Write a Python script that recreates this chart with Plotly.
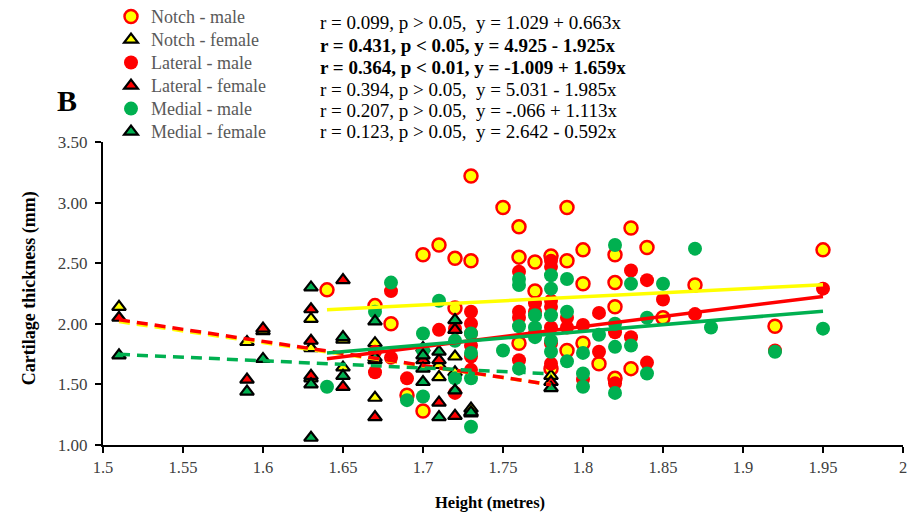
import plotly.graph_objects as go

# ---------------- data ----------------
notch_male_h = [1.64, 1.67, 1.68, 1.69, 1.70, 1.70, 1.71, 1.72, 1.72, 1.73, 1.73, 1.75,
                1.76, 1.76, 1.76, 1.77, 1.77, 1.78, 1.78, 1.79, 1.79, 1.79, 1.80, 1.80, 1.80,
                1.81, 1.82, 1.82, 1.82, 1.82, 1.83, 1.83, 1.84, 1.85, 1.87, 1.92, 1.95]
notch_male_v = [2.28, 2.15, 2.00, 1.41, 2.57, 1.28, 2.65, 2.54, 2.13, 3.22, 2.52, 2.96,
                2.80, 2.55, 1.84, 2.51, 2.27, 2.56, 1.63, 2.96, 2.52, 1.78, 2.61, 2.33, 1.84,
                1.67, 2.57, 2.34, 2.14, 1.55, 2.79, 1.63, 2.63, 2.05, 2.32, 1.98, 2.61]

notch_female_h = [1.51, 1.59, 1.60, 1.63, 1.63, 1.63, 1.65, 1.65, 1.67, 1.67, 1.70,
                  1.71, 1.71, 1.72, 1.72, 1.73, 1.78]
notch_female_v = [2.14, 1.85, 1.94, 2.04, 1.80, 1.55, 1.64, 1.87, 1.84, 1.39, 1.80,
                  1.56, 1.66, 1.73, 1.60, 1.30, 1.57]

lateral_male_h = [1.67, 1.67, 1.68, 1.68, 1.69, 1.71, 1.72, 1.72, 1.73, 1.73, 1.73, 1.73,
                  1.73, 1.73, 1.76, 1.76, 1.76, 1.76, 1.77, 1.77, 1.77, 1.78, 1.78, 1.78,
                  1.78, 1.78, 1.78, 1.78, 1.79, 1.79, 1.80, 1.80, 1.81, 1.81, 1.82, 1.82,
                  1.83, 1.83, 1.84, 1.84, 1.85, 1.87, 1.92, 1.95]
lateral_male_v = [1.60, 1.77, 2.27, 1.72, 1.55, 1.95, 1.96, 1.43, 2.10, 2.00, 1.92, 1.82,
                  1.73, 1.62, 2.43, 2.10, 2.05, 1.70, 2.17, 2.10, 1.92, 2.52, 2.47, 2.19,
                  2.14, 1.97, 1.84, 1.67, 2.05, 1.97, 1.99, 1.54, 2.09, 1.77, 1.93, 1.51,
                  2.44, 1.89, 2.36, 1.68, 2.20, 2.08, 1.78, 2.29]

lateral_female_h = [1.51, 1.59, 1.60, 1.63, 1.63, 1.63, 1.65, 1.65, 1.67, 1.67, 1.70,
                    1.71, 1.71, 1.72, 1.72, 1.73, 1.78]
lateral_female_v = [2.05, 1.54, 1.96, 2.12, 1.86, 1.57, 2.36, 1.48, 1.23, 1.70, 1.70,
                    1.35, 1.70, 1.24, 1.95, 1.26, 1.52]

medial_male_h = [1.64, 1.67, 1.68, 1.69, 1.70, 1.70, 1.70, 1.71, 1.72, 1.72, 1.73, 1.73,
                 1.73, 1.73, 1.75, 1.76, 1.76, 1.76, 1.76, 1.77, 1.77, 1.77, 1.78, 1.78,
                 1.78, 1.78, 1.78, 1.79, 1.79, 1.79, 1.80, 1.80, 1.80, 1.81, 1.82, 1.82,
                 1.82, 1.82, 1.83, 1.83, 1.84, 1.84, 1.85, 1.87, 1.88, 1.92, 1.95]
medial_male_v = [1.48, 2.10, 2.34, 1.37, 1.92, 1.78, 1.40, 2.19, 1.86, 1.55, 1.92, 1.76,
                 1.55, 1.15, 1.78, 2.37, 2.32, 1.98, 1.63, 2.07, 1.97, 1.89, 2.40, 2.29,
                 2.07, 1.86, 1.77, 2.37, 2.10, 1.69, 1.76, 1.59, 1.48, 1.91, 2.65, 2.00,
                 1.81, 1.43, 2.33, 1.82, 2.05, 1.59, 2.33, 2.62, 1.97, 1.77, 1.96]

medial_female_h = [1.51, 1.59, 1.60, 1.63, 1.63, 1.63, 1.65, 1.65, 1.67, 1.67, 1.70, 1.70,
                   1.70, 1.71, 1.71, 1.72, 1.72, 1.73, 1.78]
medial_female_v = [1.74, 1.44, 1.71, 2.30, 1.50, 1.06, 1.89, 1.57, 2.02, 1.72, 1.74, 1.63,
                   1.52, 1.77, 1.23, 2.03, 1.45, 1.27, 1.47]

# trendlines as printed: intercept, slope, x-range
trend_intercept = [1.029, 4.925, -1.009, 5.031, -0.066, 2.642]
trend_slope = [0.663, -1.925, 1.659, -1.985, 1.113, -0.592]
trend_x0 = [1.64, 1.51, 1.64, 1.51, 1.64, 1.51]
trend_x1 = [1.95, 1.78, 1.95, 1.78, 1.95, 1.78]

stat_lines = [
    "r = 0.099, p > 0.05,  y = 1.029 + 0.663x",
    "<b>r = 0.431, p < 0.05, y = 4.925 - 1.925x</b>",
    "<b>r = 0.364, p < 0.01, y = -1.009 + 1.659x</b>",
    "r = 0.394, p > 0.05,  y = 5.031 - 1.985x",
    "r = 0.207, p > 0.05,  y = -.066 + 1.113x",
    "r = 0.123, p > 0.05,  y = 2.642 - 0.592x",
]

x_ticks = [1.5, 1.55, 1.6, 1.65, 1.7, 1.75, 1.8, 1.85, 1.9, 1.95, 2.0]
x_ticklabels = ["1.5", "1.55", "1.6", "1.65", "1.7", "1.75", "1.8", "1.85", "1.9", "1.95", "2"]

# ---------------- styling ----------------
YEL, RED, GRN = "#FFFF00", "#FF0000", "#00B050"
SERIF = "Liberation Serif, Times New Roman, serif"

fig = go.Figure()


def leg(name):
    return "<span style='font-size:18px'>" + name + "</span>"


series = [
    ("Notch - male", notch_male_h, notch_male_v,
     dict(symbol="circle", size=13, color=YEL, line=dict(color=RED, width=2.5))),
    ("Notch - female", notch_female_h, notch_female_v,
     dict(symbol="triangle-up", size=12, color=YEL, line=dict(color="black", width=2.2))),
    ("Lateral - male", lateral_male_h, lateral_male_v,
     dict(symbol="circle", size=14, color=RED, line=dict(color=RED, width=0))),
    ("Lateral - female", lateral_female_h, lateral_female_v,
     dict(symbol="triangle-up", size=12, color=RED, line=dict(color="black", width=2.2))),
    ("Medial - male", medial_male_h, medial_male_v,
     dict(symbol="circle", size=14, color=GRN, line=dict(color=GRN, width=0))),
    ("Medial - female", medial_female_h, medial_female_v,
     dict(symbol="triangle-up", size=12, color=GRN, line=dict(color="black", width=2.2))),
]

trend_colors = [YEL, YEL, RED, RED, GRN, GRN]
trend_dash = ["solid", "11px,7px", "solid", "11px,7px", "solid", "11px,7px"]

for name, hx, vy, mk in series:
    fig.add_trace(go.Scatter(x=hx, y=vy, mode="markers", name=leg(name), marker=mk,
                             showlegend=True))
for i in range(6):
    xs = [trend_x0[i], trend_x1[i]]
    ys = [trend_intercept[i] + trend_slope[i] * x for x in xs]
    fig.add_trace(go.Scatter(x=xs, y=ys, mode="lines", showlegend=False,
                             hoverinfo="skip",
                             line=dict(color=trend_colors[i], width=3.5,
                                       dash=trend_dash[i])))

# plot area: x 103..903 px, y 141.5..445 px
L, R, T, B = 103, 903, 141.5, 445
W, H = 914, 517


def px2paper(px, py):
    return (px - L) / (R - L), (B - py) / (B - T)


annotations = []
for k, txt in enumerate(stat_lines):
    py = [22, 45, 67, 89, 110, 131][k]
    xp, yp = px2paper(318, py)
    annotations.append(dict(text=txt, x=xp, y=yp, xref="paper", yref="paper",
                            xanchor="left", yanchor="middle", showarrow=False,
                            font=dict(family=SERIF, size=19, color="black")))
xp, yp = px2paper(67, 100)
annotations.append(dict(text="<b>B</b>", x=xp, y=yp, xref="paper", yref="paper",
                        xanchor="center", yanchor="middle", showarrow=False,
                        font=dict(family=SERIF, size=30, color="black")))
# y-axis title
xp, yp = px2paper(29, 288)
annotations.append(dict(text="<b>Cartilage thickness (mm)</b>", x=xp, y=yp,
                        xref="paper", yref="paper", textangle=-90,
                        xanchor="center", yanchor="middle", showarrow=False,
                        font=dict(family=SERIF, size=18, color="black")))
# x-axis title
xp, yp = px2paper(490, 503)
annotations.append(dict(text="<b>Height (metres)</b>", x=xp, y=yp,
                        xref="paper", yref="paper",
                        xanchor="center", yanchor="middle", showarrow=False,
                        font=dict(family=SERIF, size=16.5, color="black")))

fig.update_layout(
    width=W, height=H,
    margin=dict(l=L, r=W - R, t=T, b=H - B, pad=0, autoexpand=False),
    paper_bgcolor="white", plot_bgcolor="white",
    font=dict(family=SERIF, color="black"),
    legend=dict(xref="container", yref="container",
                x=111 / W, y=1 + 9 / H, xanchor="left", yanchor="top",
                font=dict(family=SERIF, size=15.4, color="#595959"),
                bgcolor="rgba(0,0,0,0)", tracegroupgap=0, itemsizing="trace",
                itemwidth=30),
    annotations=annotations,
    xaxis=dict(range=[1.5, 2.0], tickvals=x_ticks, ticktext=x_ticklabels,
               showgrid=False, zeroline=False, showline=True, linecolor="black",
               linewidth=2, ticks="outside", ticklen=6, tickwidth=1.5, tickcolor="black",
               tickfont=dict(family=SERIF, size=16.5, color="#404040")),
    yaxis=dict(range=[1.0, 3.5], dtick=0.5, tickformat=".2f",
               showgrid=False, zeroline=False, showline=True, linecolor="black",
               linewidth=2, ticks="outside", ticklen=6, tickwidth=1.5, tickcolor="black",
               ticklabelstandoff=4,
               tickfont=dict(family=SERIF, size=17, color="#404040")),
)

fig.write_html("out.html")
